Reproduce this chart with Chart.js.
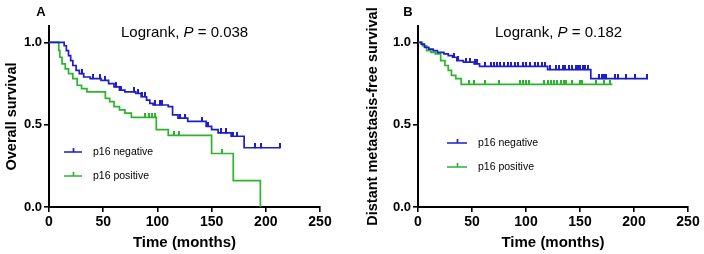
<!DOCTYPE html>
<html lang="en">
<head>
<meta charset="UTF-8">
<title>Survival by p16 status</title>
<script src="https://cdn.jsdelivr.net/npm/chart.js"></script>
<style>
  body { margin: 0; background: #fff; }
  .panel { position: absolute; top: 0; }
</style>
</head>
<body>
<div class="panel" style="left:0px"><canvas id="chartA" width="352" height="254"></canvas></div>
<div class="panel" style="left:361px"><canvas id="chartB" width="343" height="254"></canvas></div>

<script>
// ---- données ----
const xTicks = [0, 50, 100, 150, 200, 250];
const yTicks = [0, 0.5, 1.0];
const groups = ['p16 negative', 'p16 positive'];
const pValues = ['0.038', '0.182'];

// A : survie globale (temps d'événement / survie après l'événement)
const timesA_neg = [0, 14, 16, 18, 20, 22, 25, 28, 32, 38, 48, 55, 60, 65, 70, 80, 85, 90, 93, 96, 110, 114, 119, 128, 145, 150, 156, 168, 180, 213];
const survA_neg  = [1, 0.98, 0.95, 0.92, 0.89, 0.86, 0.83, 0.81, 0.79, 0.78, 0.77, 0.75, 0.73, 0.71, 0.70, 0.69, 0.67, 0.65, 0.63, 0.62, 0.61, 0.56, 0.54, 0.52, 0.49, 0.47, 0.45, 0.43, 0.36, 0.36];
const censA_neg  = [30, 41, 47, 52, 62, 66, 78, 82, 86, 89, 98, 102, 104, 121, 125, 141, 147, 159, 163, 170, 173, 190, 196, 213];

const timesA_pos = [0, 9, 10, 12, 15, 18, 22, 26, 30, 35, 52, 56, 60, 65, 70, 76, 99, 110, 150, 170, 195];
const survA_pos  = [1, 0.95, 0.91, 0.87, 0.84, 0.81, 0.78, 0.74, 0.72, 0.70, 0.66, 0.64, 0.61, 0.59, 0.57, 0.545, 0.47, 0.435, 0.325, 0.16, 0];
const censA_pos  = [89, 92, 95, 98, 115, 120, 160];

// B : survie sans métastase à distance
const timesB_neg = [0, 3, 6, 10, 14, 18, 24, 28, 32, 36, 42, 52, 57, 120, 160, 213];
const survB_neg  = [1, 0.99, 0.97, 0.96, 0.95, 0.94, 0.93, 0.92, 0.91, 0.89, 0.88, 0.87, 0.855, 0.835, 0.78, 0.78];
const censB_neg  = [33, 37, 44, 48, 53, 55, 62, 68, 70, 73, 76, 80, 83, 86, 90, 93, 97, 100, 104, 108, 111, 115, 118, 122, 128, 131, 134, 136, 140, 143, 146, 148, 150, 153, 155, 157, 168, 170, 172, 174, 182, 185, 193, 201, 212];

const timesB_pos = [0, 4, 8, 12, 16, 21, 25, 28, 31, 35, 40, 180];
const survB_pos  = [1, 0.98, 0.95, 0.94, 0.93, 0.89, 0.86, 0.83, 0.80, 0.78, 0.745, 0.745];
const censB_pos  = [47, 52, 62, 75, 94, 97, 100, 103, 117, 120, 123, 126, 129, 132, 135, 137, 143, 150, 152, 165, 172, 178];

const BLUE = '#1e1ec8';
const GREEN = '#2cb52c';
const FONT = 'Arial, "Liberation Sans", sans-serif';
Chart.defaults.font.family = FONT;
Chart.defaults.color = '#000';

// survie au temps t (fonction en escalier)
function survAt(times, surv, t) {
  let s = surv[0];
  for (let i = 0; i < times.length; i++) {
    if (t >= times[i]) s = surv[i];
  }
  return s;
}

// petit trait vertical vers le haut pour les censures
function tickImage(color) {
  const c = document.createElement('canvas');
  c.width = 2; c.height = 9;
  const g = c.getContext('2d');
  g.fillStyle = color;
  g.fillRect(0, 0, 2, 5);
  return c;
}

function curve(times, surv, color) {
  return {
    data: times.map((t, i) => ({ x: t, y: surv[i] })),
    showLine: true,
    stepped: true,
    borderColor: color,
    borderWidth: 1.7,
    pointRadius: 0,
    fill: false
  };
}

function censors(times, surv, cens, color) {
  return {
    data: cens.map(t => ({ x: t, y: survAt(times, surv, t) })),
    showLine: false,
    pointStyle: tickImage(color),
    pointRadius: 4,
    borderColor: color,
    backgroundColor: color
  };
}

// texte : lettre du panneau, logrank, légende
const kmText = {
  id: 'kmText',
  afterDraw(chart, args, o) {
    const ctx = chart.ctx;
    ctx.save();
    ctx.fillStyle = '#000';
    ctx.textBaseline = 'middle';
    ctx.textAlign = 'center';
    ctx.font = 'bold 13px ' + FONT;
    ctx.fillText(o.letter, o.letterX, 12);

    ctx.textAlign = 'left';
    let x = o.pX;
    const parts = [['Logrank, ', ''], ['P', 'italic '], [' = ' + o.p, '']];
    parts.forEach(p => {
      ctx.font = p[1] + '15px ' + FONT;
      ctx.fillText(p[0], x, 33);
      x += ctx.measureText(p[0]).width;
    });

    const colors = [BLUE, GREEN];
    groups.forEach((label, i) => {
      const y = o.legY[i];
      ctx.strokeStyle = colors[i];
      ctx.lineWidth = 1.7;
      ctx.beginPath();
      ctx.moveTo(o.legX1, y);
      ctx.lineTo(o.legX2, y);
      const mid = Math.round((o.legX1 + o.legX2) / 2) + 0.5;
      ctx.moveTo(mid, y);
      ctx.lineTo(mid, y - 4);
      ctx.stroke();
      ctx.fillStyle = '#000';
      ctx.font = '10.5px ' + FONT;
      ctx.fillText(label, o.legX2 + 11, y);
    });
    ctx.restore();
  }
};

function makeChart(id, datasets, yTitle, yWidth, padRight, text) {
  new Chart(document.getElementById(id), {
    type: 'scatter',
    data: { datasets: datasets },
    plugins: [kmText],
    options: {
      responsive: false,
      animation: false,
      layout: { padding: { top: 26, right: padRight, left: 0, bottom: 0 } },
      plugins: { legend: { display: false }, tooltip: { enabled: false }, kmText: text },
      scales: {
        x: {
          type: 'linear', min: 0, max: 250,
          afterBuildTicks: s => { s.ticks = xTicks.map(v => ({ value: v })); },
          afterFit: s => { s.height = 47; },
          grid: { drawOnChartArea: false, color: '#000', lineWidth: 1.6, tickLength: 5 },
          border: { color: '#000', width: 2 },
          ticks: { font: { size: 14, weight: 'bold' }, padding: 2, maxRotation: 0 },
          title: { display: true, text: 'Time (months)', font: { size: 15, weight: 'bold' }, padding: { top: 0, bottom: 2 } }
        },
        y: {
          type: 'linear', min: 0, max: 1.1,
          afterBuildTicks: s => { s.ticks = yTicks.map(v => ({ value: v })); },
          afterFit: s => { s.width = yWidth; },
          grid: { drawOnChartArea: false, color: '#000', lineWidth: 1.6, tickLength: 5 },
          border: { color: '#000', width: 2 },
          ticks: { font: { size: 13, weight: 'bold' }, padding: 2, callback: v => v.toFixed(1) },
          title: { display: true, text: yTitle, font: { size: 14.5, weight: 'bold' }, padding: { top: 3, bottom: 0 } }
        }
      }
    }
  });
}

makeChart('chartA', [
  curve(timesA_neg, survA_neg, BLUE),
  curve(timesA_pos, survA_pos, GREEN),
  censors(timesA_neg, survA_neg, censA_neg, BLUE),
  censors(timesA_pos, survA_pos, censA_pos, GREEN)
], 'Overall survival', 49, 32,
  { letter: 'A', letterX: 41, pX: 121, p: pValues[0], legX1: 64, legX2: 82, legY: [152, 176] });

makeChart('chartB', [
  curve(timesB_neg, survB_neg, BLUE),
  curve(timesB_pos, survB_pos, GREEN),
  censors(timesB_neg, survB_neg, censB_neg, BLUE),
  censors(timesB_pos, survB_pos, censB_pos, GREEN)
], 'Distant metastasis-free survival', 57, 16,
  { letter: 'B', letterX: 47, pX: 134, p: pValues[1], legX1: 86, legX2: 106, legY: [143, 167] });
</script>
</body>
</html>
